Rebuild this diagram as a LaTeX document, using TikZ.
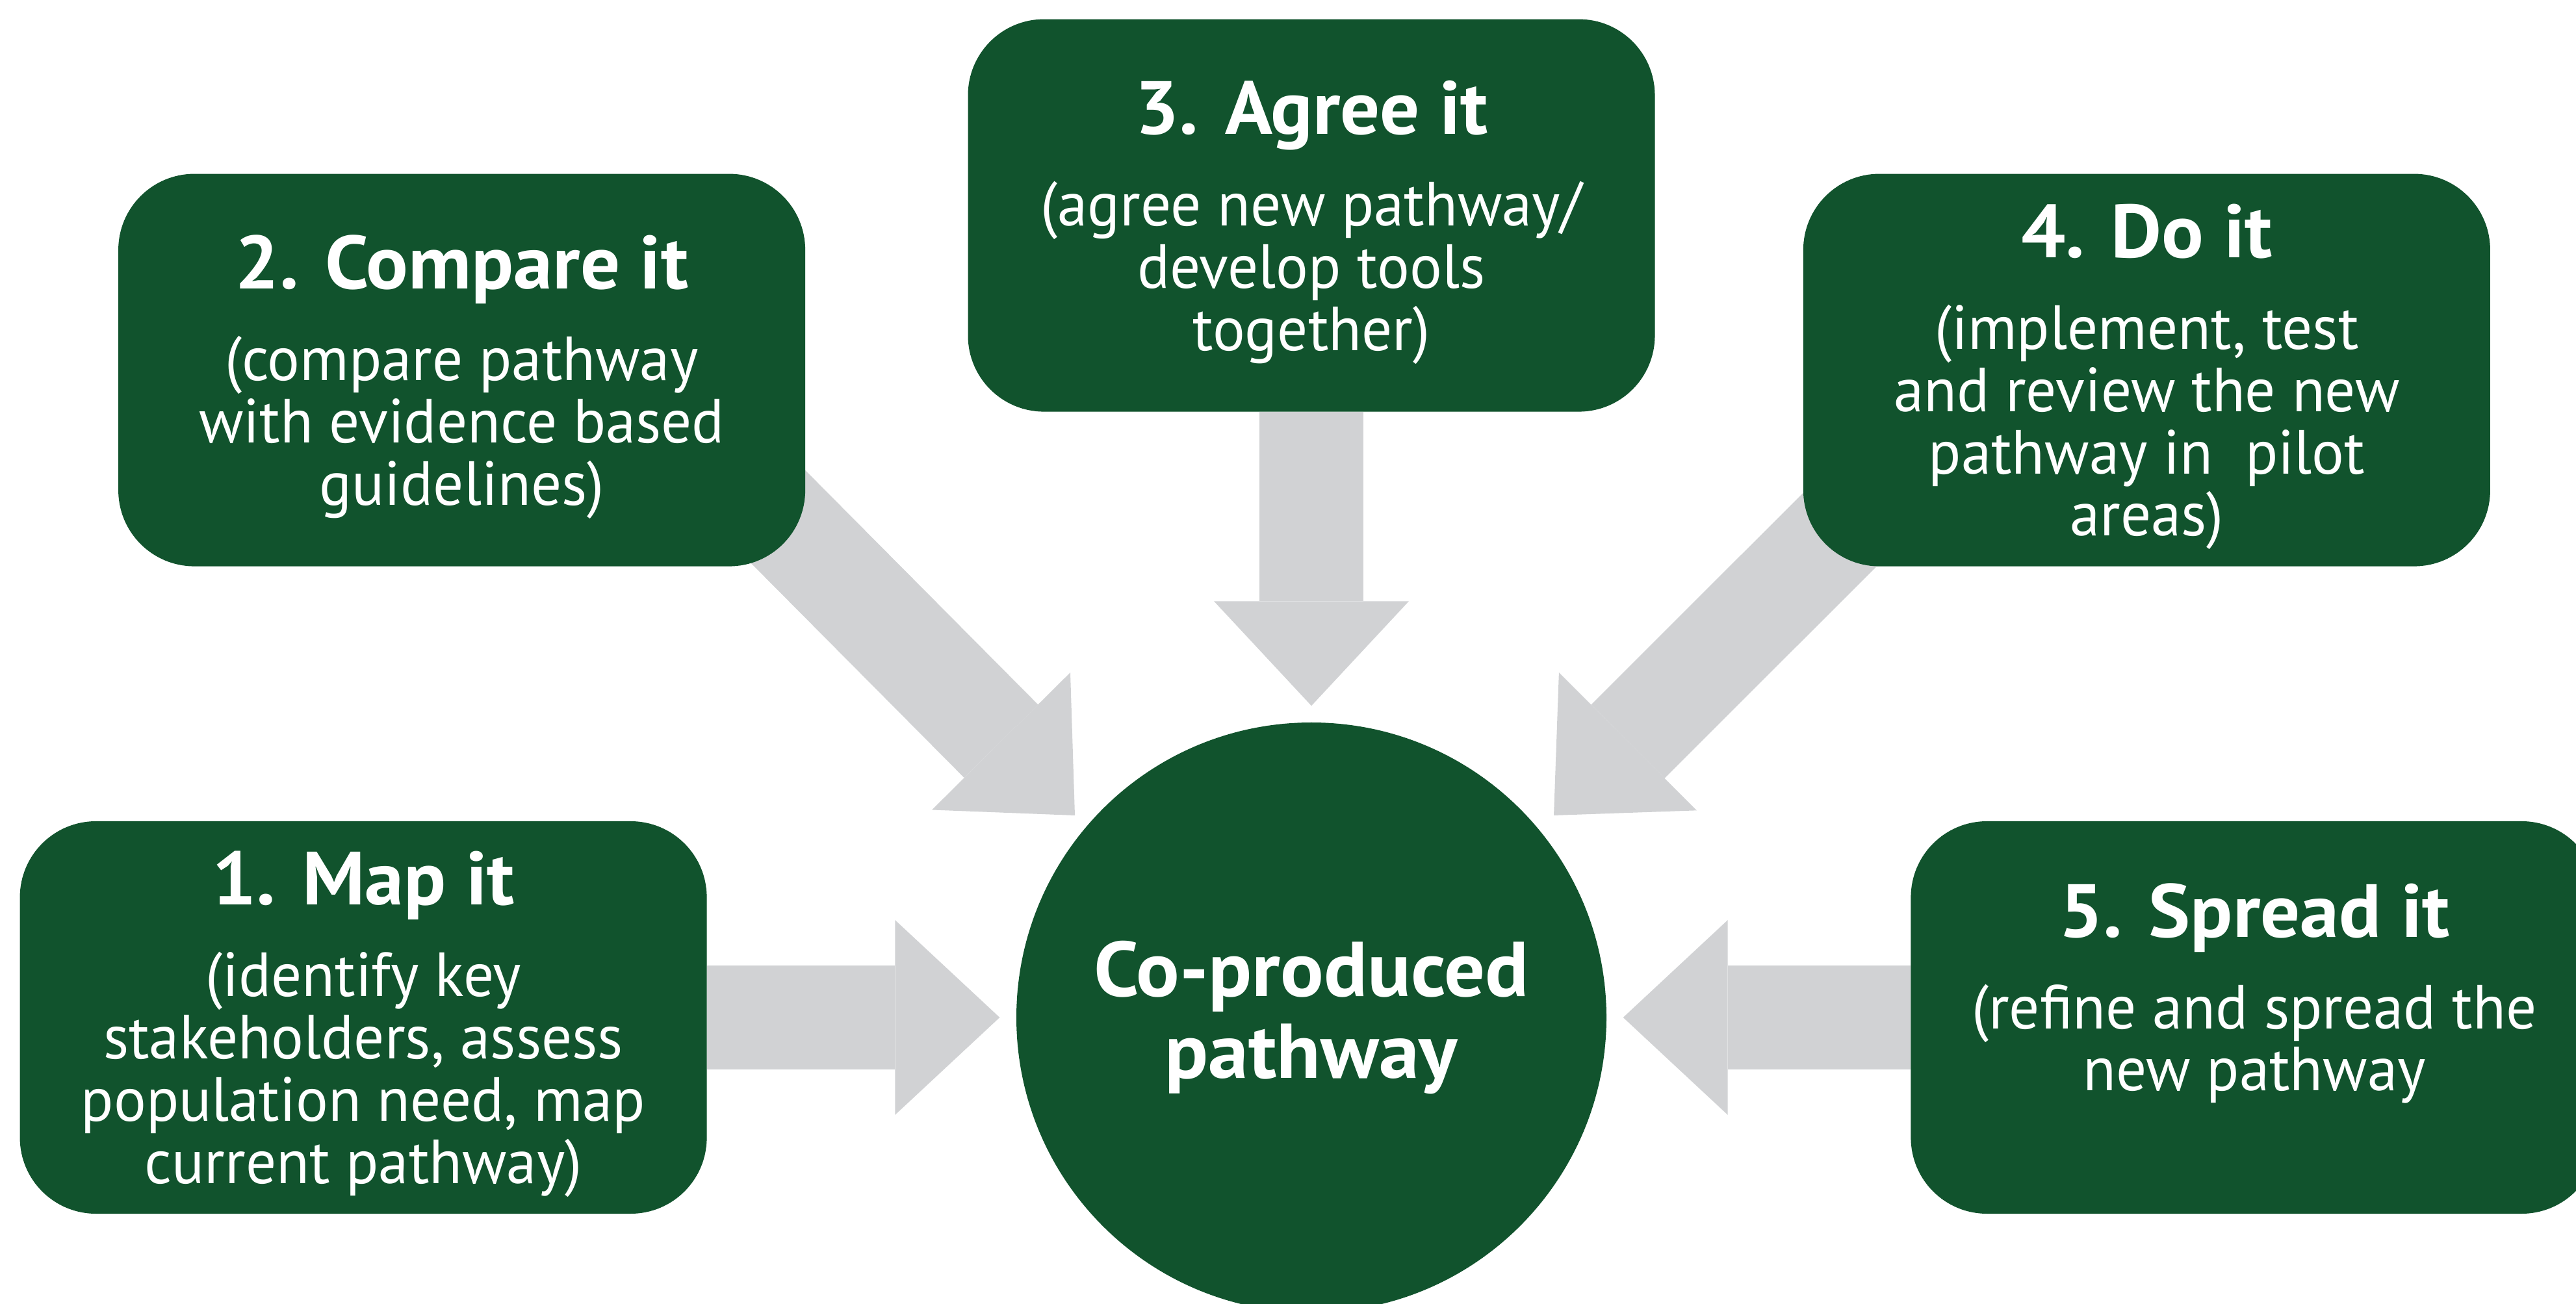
\documentclass[tikz,border=0pt]{standalone}
\usepackage{fontspec}
\setmainfont{PT Sans}[FakeStretch=0.97]
\newfontfamily\headfont{PT Sans}[FakeStretch=1.04]
\usetikzlibrary{positioning, arrows.meta, backgrounds}

\definecolor{stepgreen}{RGB}{17,83,45}
\definecolor{arrowgray}{RGB}{209,210,212}

\newcommand{\titlesize}{\headfont\fontsize{33pt}{36pt}\selectfont\bfseries}
\newcommand{\coresize}{\headfont\fontsize{34pt}{36pt}\selectfont\bfseries}
\newcommand{\bodysize}{\fontsize{27.3pt}{27.3pt}\selectfont}
\newcommand{\topgap}{\rule{0pt}{1.1cm}}
\newcommand{\botgap}[1][0.28cm]{\rule[-#1]{0pt}{#1}}
\lineskiplimit=-20pt

\begin{document}
\begin{tikzpicture}[
    stepbox/.style={fill=stepgreen, rounded corners=1.17cm, minimum width=10.57cm,
        minimum height=6.04cm, inner sep=0pt, align=center, text=white, font=\bodysize},
    corebox/.style={circle, fill=stepgreen, minimum size=9.08cm, inner sep=0pt,
        align=center, text=white, font=\coresize},
    bigarrow/.style={draw=arrowgray, line width=1.6cm,
        -{Triangle[width=3cm, length=1.61cm, line width=0pt]}, shorten >=0.25cm}
]
    \useasboundingbox (0,0) rectangle (39.64,20.06);

    % Centre of the diagram
    \node [corebox] (core) at (20.18,4.40) {Co-produced\\pathway};

    % The five steps
    \node [stepbox, left=4.75cm of core] (map)
        {{\titlesize\topgap 1. Map it}\\[0.45cm] (identify key\\ stakeholders, assess\\
         population need, map\\ current pathway)\botgap};
    \node [stepbox, above=4.77cm of core] (agree)
        {{\titlesize\topgap 3. Agree it}\\[0.45cm] (agree new pathway/\\ develop tools\\
         together)\botgap};
    \node [stepbox, left=2.49cm of agree, yshift=-2.38cm] (compare)
        {{\titlesize\topgap 2. Compare it}\\[0.45cm] (compare pathway\\ with evidence based\\
         guidelines)\botgap};
    \node [stepbox, right=2.27cm of agree, yshift=-2.38cm] (doit)
        {{\titlesize\topgap 4. Do it}\\[0.45cm] (implement, test\\ and review the new\\
         pathway in~ pilot\\ areas)\botgap};
    \node [stepbox, right=4.67cm of core] (spread)
        {{\titlesize\topgap 5. Spread it}\\[0.45cm] (refine and spread the\\
         new pathway\botgap[1.21cm]};

    % Arrows into the centre
    \begin{scope}[on background layer]
        \draw [bigarrow] (map.east) -- (core.west);
        \draw [bigarrow] (spread.west) -- (core.east);
        \draw [bigarrow] (agree.south) -- (core.north);
        \draw [bigarrow, shorten >=0pt] ([shift={(-1.0,1.35)}]compare.south east)
            -- ([shift={(-3.64,3.11)}]core.center);
        \draw [bigarrow, shorten >=0pt] ([shift={(1.0,1.0)}]doit.south west)
            -- ([shift={(3.73,3.11)}]core.center);
    \end{scope}
\end{tikzpicture}
\end{document}
